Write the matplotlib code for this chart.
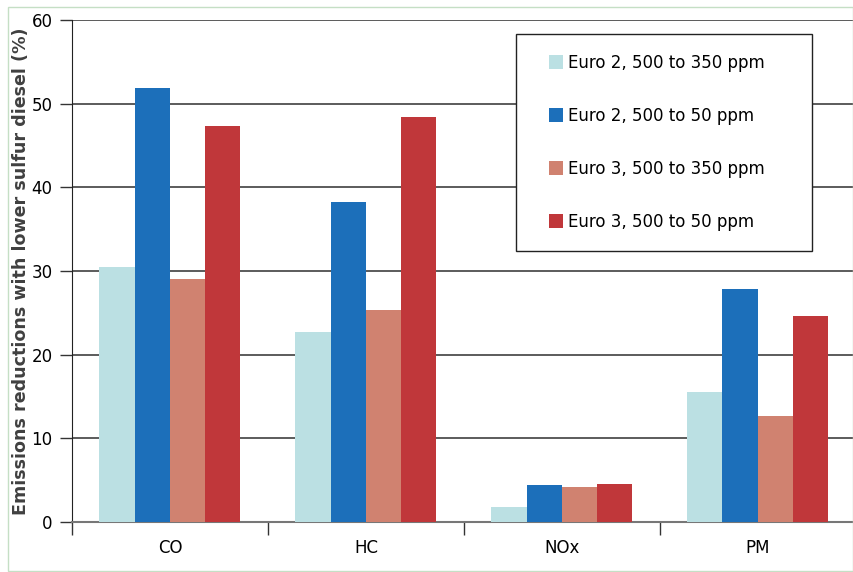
#!/usr/bin/env python

import numpy as np
import matplotlib.pyplot as plt
from matplotlib.patches import Rectangle

# ----------------------------------------------------------------------
# Emission reductions from lower sulfur diesel, grouped bar chart
# ----------------------------------------------------------------------

pollutants = ['CO', 'HC', 'NOx', 'PM']
series_names = ['Euro 2, 500 to 350 ppm', 'Euro 2, 500 to 50 ppm',
                'Euro 3, 500 to 350 ppm', 'Euro 3, 500 to 50 ppm']
euro2_350 = [30.5, 22.7, 1.8, 15.5]
euro2_50 = [51.9, 38.2, 4.4, 27.8]
euro3_350 = [29.0, 25.3, 4.2, 12.7]
euro3_50 = [47.3, 48.4, 4.5, 24.6]
colors = ['#bbe0e3', '#1c6fba', '#d08270', '#c0373a']
y_ticks = [0, 10, 20, 30, 40, 50, 60]

if __name__ == "__main__":

    plt.rcParams['font.family'] = 'DejaVu Sans'

    fig = plt.figure(figsize=(8.54, 5.72), dpi=100)
    # thin light green frame round the picture
    fig.patches.append(Rectangle((8 / 854, 0.002), 845 / 854, 1 - 0.002 - 7 / 572,
                                 transform=fig.transFigure, fill=False,
                                 edgecolor='#c5dfc5', linewidth=1.0))

    ax = fig.add_axes([72 / 854, 50 / 572, 1 - 72 / 854 + 0.002, 502 / 572])

    x = np.arange(len(pollutants))
    width = 0.18
    all_series = [euro2_350, euro2_50, euro3_350, euro3_50]
    for i, vals in enumerate(all_series):
        offs = (i - 1.5) * width
        ax.bar(x + offs, vals, width, color=colors[i], label=series_names[i],
               zorder=3, edgecolor='none')

    ax.set_xlim(-0.5, len(pollutants) - 0.5)
    ax.set_ylim(0, 60)
    ax.set_yticks(y_ticks)
    ax.yaxis.grid(True, color='#404040', linewidth=1.2, zorder=0)
    ax.set_axisbelow(True)

    # category separators as x ticks, labels at centres
    ax.set_xticks(np.arange(len(pollutants) + 1) - 0.5)
    ax.set_xticklabels([])
    ax.set_xticks(x, minor=True)
    ax.set_xticklabels(pollutants, minor=True, fontsize=12)
    ax.tick_params(axis='x', which='minor', length=0, pad=12)
    ax.tick_params(axis='x', which='major', length=9, width=1, color='#333333')
    ax.tick_params(axis='y', length=9, width=1, color='#333333',
                   labelsize=12, pad=5)

    for side in ['top', 'right']:
        ax.spines[side].set_visible(False)
    ax.spines['left'].set_color('#222222')
    ax.spines['bottom'].set_color('#777777')
    ax.spines['bottom'].set_linewidth(1.5)

    ax.set_ylabel('Emissions reductions with lower sulfur diesel (%)',
                  fontsize=12.6, fontweight='bold', color='#404040',
                  labelpad=1)

    # legend box drawn separately so the padding can be uneven
    ax.add_patch(Rectangle((0.567, 0.540), 0.377, 0.432,
                           transform=ax.transAxes, facecolor='white',
                           edgecolor='#222222', linewidth=1.0, zorder=4))
    leg = ax.legend(loc='upper left', bbox_to_anchor=(0.609, 0.933),
                    fontsize=12, frameon=False,
                    labelspacing=2.1, handlelength=0.85, handleheight=0.85,
                    handletextpad=0.3, borderpad=0, borderaxespad=0)
    leg.set_zorder(5)

    fig.savefig('out.png', dpi=100)
    plt.close()
